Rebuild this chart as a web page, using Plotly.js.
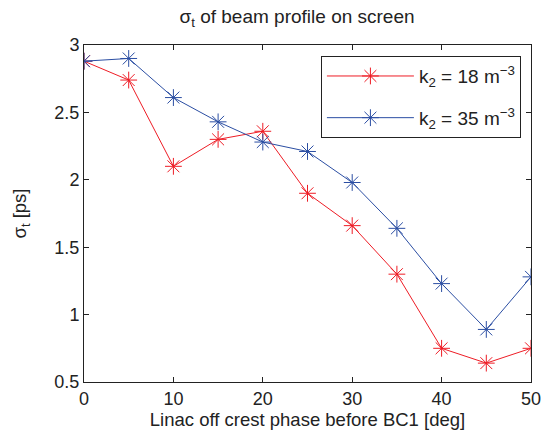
<!DOCTYPE html>
<html>
<head>
<meta charset="utf-8">
<script src="https://cdn.plot.ly/plotly-3.0.1.min.js"></script>
<style>html,body{margin:0;padding:0;background:#fff;}#chart{width:543px;height:437px;}</style>
</head>
<body>
<div id="chart"></div>
<script>
var phase = [0, 5, 10, 15, 20, 25, 30, 35, 40, 45, 50];
var sigmaK18 = [2.88, 2.74, 2.10, 2.30, 2.36, 1.90, 1.66, 1.30, 0.75, 0.64, 0.75];
var sigmaK35 = [2.88, 2.90, 2.61, 2.43, 2.28, 2.21, 1.98, 1.64, 1.23, 0.89, 1.28];
var seriesNames = ['k<sub>2</sub> = 18 m<sup>\u22123</sup>', 'k<sub>2</sub> = 35 m<sup>\u22123</sup>'];
var xTicks = [0, 10, 20, 30, 40, 50];
var yTicks = [0.5, 1, 1.5, 2, 2.5, 3];

var fam = 'Liberation Sans, Arial, sans-serif';
var tickFont = {family: fam, size: 18, color: '#222'};
var labelFont = {family: fam, size: 18.5, color: '#222'};
var traces = [
  {x: phase, y: sigmaK18, name: seriesNames[0], mode: 'lines+markers', legendgroup: 'a',
   line: {color: '#ee1c25', width: 1},
   marker: {symbol: 'asterisk-open', size: 14, line: {color: '#ee1c25', width: 1}}},
  {x: phase, y: sigmaK35, name: seriesNames[1], mode: 'lines+markers', legendgroup: 'b',
   line: {color: '#2b4ea3', width: 1},
   marker: {symbol: 'asterisk-open', size: 14, line: {color: '#2b4ea3', width: 1}}}
];
var axisCommon = {showgrid: false, zeroline: false, showline: true, linecolor: '#222', linewidth: 1,
  mirror: 'ticks', ticks: 'inside', ticklen: 5, tickcolor: '#222', tickfont: tickFont};
var layout = {
  width: 543, height: 437,
  margin: {l: 84, r: 12, t: 45, b: 55},
  paper_bgcolor: '#fff', plot_bgcolor: '#fff',
  font: tickFont,
  title: {text: '\u03c3<sub>t</sub> of beam profile on screen', font: {family: fam, size: 19, color: '#222'}, x: 0.547, xanchor: 'center', y: 0.962, yanchor: 'middle'},
  xaxis: Object.assign({}, axisCommon, {range: [0, 50], tickvals: xTicks,
    title: {text: 'Linac off crest phase before BC1 [deg]', font: labelFont, standoff: 5}}),
  yaxis: Object.assign({}, axisCommon, {range: [0.5, 3], tickvals: yTicks,
    ticktext: yTicks.map(String),
    title: {text: '\u03c3<sub>t</sub> [ps]', font: labelFont, standoff: 22}}),
  legend: {x: 0.53, y: 0.967, xanchor: 'left', yanchor: 'top', bgcolor: '#fff',
    bordercolor: '#222', borderwidth: 1, font: {family: fam, size: 19, color: '#222'},
    tracegroupgap: 14, itemwidth: 87}
};
Plotly.newPlot('chart', traces, layout, {staticPlot: true, displayModeBar: false});
</script>
</body>
</html>
